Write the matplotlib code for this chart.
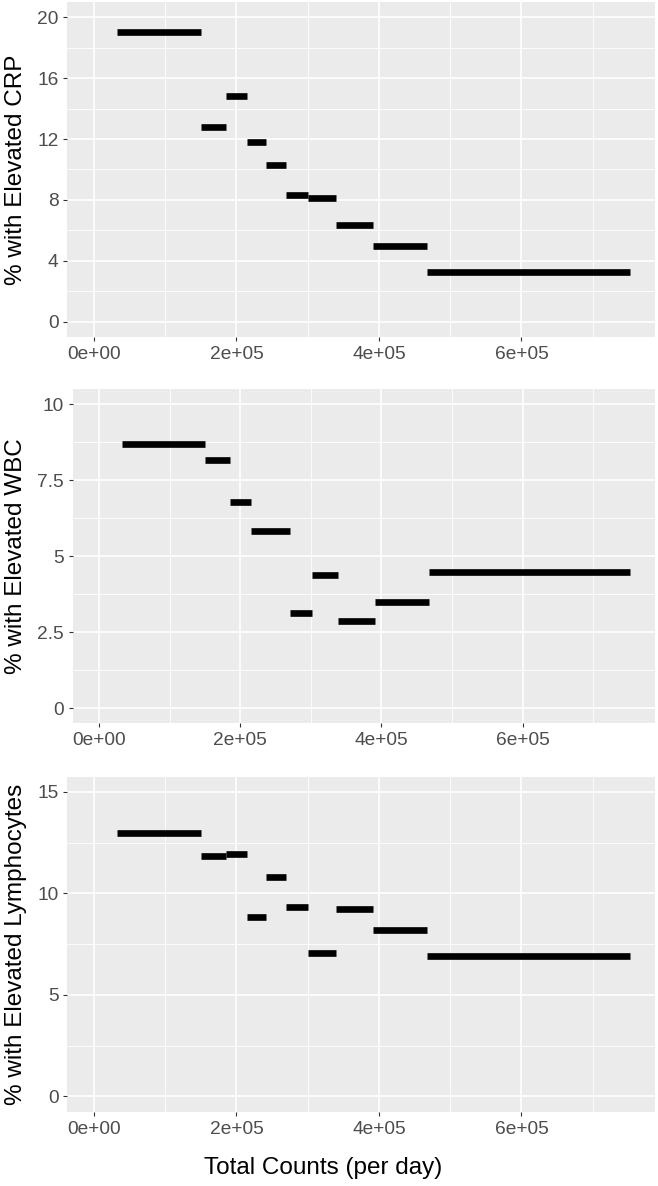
import numpy as np
import matplotlib
matplotlib.use("Agg")
import matplotlib.pyplot as plt
from matplotlib.ticker import FuncFormatter, MultipleLocator

# ---- data ----
# bin edges of total counts per day
crp_edges = [32000, 150000, 185000, 215000, 241000, 270000, 301000, 339000, 391000, 468000, 752000]
crp_pct = [19.0, 12.8, 14.8, 11.8, 10.3, 8.3, 8.15, 6.37, 5.0, 3.3]

wbc_edges = [32000, 150000, 185000, 215000, 270000, 301000, 339000, 391000, 468000, 752000]
wbc_pct = [8.7, 8.16, 6.78, 5.83, 3.12, 4.38, 2.87, 3.49, 4.47]

lym_edges = [32000, 150000, 185000, 215000, 241000, 270000, 301000, 339000, 391000, 468000, 752000]
lym_pct = [13.0, 11.83, 11.92, 8.86, 10.8, 9.32, 7.08, 9.21, 8.22, 6.93]

x_ticks = [0, 200000, 400000, 600000]
x_minor = [100000, 300000, 500000, 700000]

panels = [
    ("% with Elevated CRP", crp_edges, crp_pct, (-1, 21), 4, 2),
    ("% with Elevated WBC", wbc_edges, wbc_pct, (-0.5, 10.5), 2.5, 1.25),
    ("% with Elevated Lymphocytes", lym_edges, lym_pct, (-0.75, 15.75), 5, 2.5),
]

# ---- layout (pixels of a 658 x 1186 figure) ----
W, H = 658, 1186
boxes = [(67.3, 2, 655, 337), (72.7, 389, 655, 723.3), (67.3, 776.7, 655, 1111.7)]

plt.rcParams['font.family'] = ['Liberation Sans', 'DejaVu Sans']
fig = plt.figure(figsize=(W / 100, H / 100), dpi=100)

axes = []
for (title, edges, pct, ylim, major, minor), (l, t, r, b) in zip(panels, boxes):
    ax = fig.add_axes([l / W, 1 - b / H, (r - l) / W, (b - t) / H])
    ax.set_facecolor('#EBEBEB')
    for s in ax.spines.values():
        s.set_visible(False)

    ax.set_xlim(-37500, 787500)
    ax.set_ylim(*ylim)
    ax.xaxis.set_major_locator(plt.FixedLocator(x_ticks))
    ax.xaxis.set_minor_locator(plt.FixedLocator(x_minor))
    ax.yaxis.set_major_locator(MultipleLocator(major))
    ax.yaxis.set_minor_locator(MultipleLocator(minor))
    ax.xaxis.set_major_formatter(FuncFormatter(lambda v, p: f"{v:.0e}"))
    ax.yaxis.set_major_formatter(FuncFormatter(lambda v, p: f"{v:g}"))

    ax.grid(which='major', color='white', linewidth=1.2)
    ax.grid(which='minor', color='white', linewidth=0.6)
    ax.set_axisbelow(True)
    ax.tick_params(which='major', length=2.9, width=0.8, color='#333333',
                   labelcolor='#4D4D4D', labelsize=13.8, pad=3.5)
    ax.tick_params(which='minor', length=0)

    ax.hlines(pct, edges[:-1], edges[1:], colors='black', linewidth=4.8,
              capstyle='butt', zorder=3)

    ax.set_ylabel(title, fontsize=17.5, va='center')
    ax.yaxis.set_label_coords(16 / W, 1 - ((t + b) / 2) / H, transform=fig.transFigure)
    axes.append(ax)

axes[-1].set_xlabel("Total Counts (per day)", fontsize=17.5, va='center')
axes[-1].xaxis.set_label_coords(323 / W, 1 - 1168 / H, transform=fig.transFigure)

fig.savefig("out.png", dpi=100)
